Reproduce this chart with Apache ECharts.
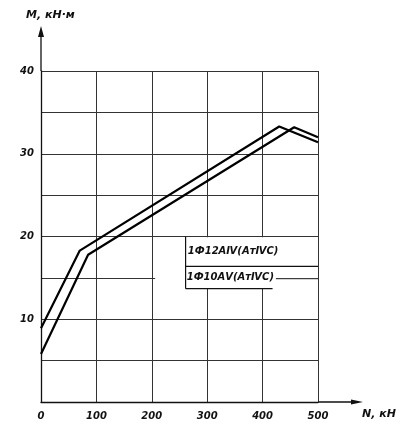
<!DOCTYPE html>
<html><head><meta charset="utf-8">
<script src="https://cdn.jsdelivr.net/npm/echarts@6/dist/echarts.min.js"></script>
<style>html,body{margin:0;padding:0;background:#fff}#c{width:415px;height:428px}</style>
</head><body><div id="c"></div>
<script>
// ---- data ----
const xTicks = [0, 100, 200, 300, 400, 500];
const yTickLabels = [10, 20, 30, 40];
const seriesNames = ['1Ф12АⅣ(AтⅣС)', '1Ф10АⅤ(AтⅣС)'];
const nUpper = [0, 70, 430, 500];
const mUpper = [8.9, 18.3, 33.3, 31.4];
const nLower = [0, 85, 457, 500];
const mLower = [5.8, 17.8, 33.2, 32.0];
const xTitle = 'N, кН';
const yTitle = 'M, кН·м';

const FONT = 'DejaVu Sans';
const chart = echarts.init(document.getElementById('c'), null, {renderer: 'canvas'});
const zip = (a, b) => a.map((v, i) => [v, b[i]]);

chart.setOption({
  animation: false,
  backgroundColor: '#fff',
  grid: {left: 41, right: 97, top: 71, bottom: 26},
  xAxis: {
    type: 'value', min: xTicks[0], max: xTicks[xTicks.length - 1], interval: 100,
    axisLine: {show: true, lineStyle: {color: '#111', width: 1.3}},
    axisTick: {show: false},
    splitLine: {show: true, lineStyle: {color: '#333', width: 1}},
    axisLabel: {margin: 9, color: '#111', fontFamily: FONT, fontStyle: 'italic', fontWeight: 'bold', fontSize: 10,
      formatter: v => xTicks.includes(v) ? String(v) : ''}
  },
  yAxis: {
    type: 'value', min: 0, max: 40, interval: 5,
    axisLine: {show: true, lineStyle: {color: '#111', width: 1.3}},
    axisTick: {show: false},
    splitLine: {show: true, lineStyle: {color: '#333', width: 1}},
    axisLabel: {margin: 7, color: '#111', fontFamily: FONT, fontStyle: 'italic', fontWeight: 'bold', fontSize: 10,
      formatter: v => yTickLabels.includes(v) ? String(v) : ''}
  },
  series: [
    {name: seriesNames[0], type: 'line', data: zip(nUpper, mUpper), symbol: 'none',
     lineStyle: {color: '#000', width: 2.2}, z: 5},
    {name: seriesNames[1], type: 'line', data: zip(nLower, mLower), symbol: 'none',
     lineStyle: {color: '#000', width: 2.2}, z: 5}
  ]
});

const p = (x, y) => chart.convertToPixel({gridIndex: 0}, [x, y]);
const yTop = p(0, 40), xEnd = p(500, 0);
const ln = (a, b, w) => ({type: 'line', z: 110, shape: {x1: a[0], y1: a[1], x2: b[0], y2: b[1]},
  style: {stroke: '#111', lineWidth: w || 1}});

const mTL = p(206, 19.9), mBR = p(499.3, 13.7);
const bL = p(261, 20), bB = p(261, 13.7), bMid = p(261, 16.4), bMidR = p(500, 16.4);
const uR = p(418, 13.7);
const g15a = p(424, 14.9), g15b = p(500, 14.9);
const t1 = p(265, 18.2), t2 = p(263, 15.0);
const F = 'italic bold 11px "' + FONT + '"';
const FL = 'italic bold 10px "' + FONT + '"';

chart.setOption({
  graphic: [
    {type: 'rect', z: 100, shape: {x: mTL[0], y: mTL[1], width: mBR[0] - mTL[0], height: mBR[1] - mTL[1]},
     style: {fill: '#fff'}},
    ln(bL, bB, 1.2),
    ln(bMid, bMidR, 1.2),
    ln(bB, uR, 1.3),
    ln(g15a, g15b, 1),
    {type: 'text', z: 120, x: t1[0], y: t1[1],
     style: {text: seriesNames[0], fill: '#111', font: FL, textVerticalAlign: 'middle'}},
    {type: 'text', z: 120, x: t2[0], y: t2[1],
     style: {text: seriesNames[1], fill: '#111', font: FL, textVerticalAlign: 'middle'}},
    // y axis extension and arrow
    ln(yTop, [yTop[0], 34], 1.3),
    {type: 'polygon', z: 110, shape: {points: [[yTop[0], 26], [yTop[0] - 3, 37], [yTop[0] + 3, 37]]},
     style: {fill: '#111'}},
    // x axis extension and arrow
    ln(xEnd, [356, xEnd[1]], 1.3),
    {type: 'polygon', z: 110, shape: {points: [[363, xEnd[1]], [351, xEnd[1] - 2.5], [351, xEnd[1] + 2.5]]},
     style: {fill: '#111'}},
    {type: 'text', z: 120, x: 26, y: 15,
     style: {text: yTitle, fill: '#111', font: F, textVerticalAlign: 'middle'}},
    {type: 'text', z: 120, x: 362, y: 414,
     style: {text: xTitle, fill: '#111', font: F, textVerticalAlign: 'middle'}}
  ]
});
</script></body></html>
